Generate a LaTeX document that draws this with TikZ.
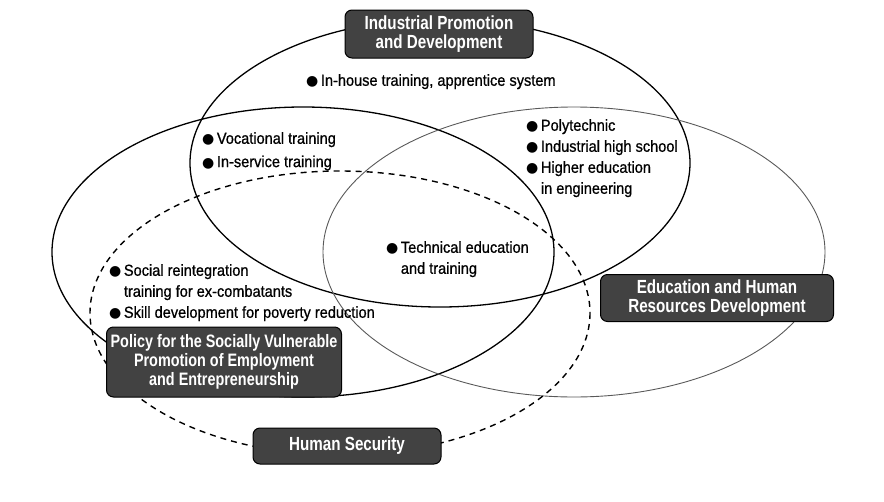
\documentclass[tikz,border=0pt]{standalone}
\usepackage{fontspec}
\setmainfont{Liberation Sans}[FakeStretch=0.91, FakeBold=0.8]
\newfontfamily\tagfont{Liberation Sans}[FakeStretch=0.8]
\newfontfamily\dotfont{DejaVu Sans}
\usetikzlibrary{positioning}
\newcommand{\blt}{{\dotfont\fontsize{14}{14}\selectfont ●}\hspace{2.5pt}}

\begin{document}
\begin{tikzpicture}[x=1pt, y=-1pt, node distance=9pt,
  ring/.style={line width=1.3pt},
  hsring/.style={line width=1.4pt, dash pattern=on 6pt off 5pt},
  tag/.style={draw=black, line width=1pt, fill=black!74, rounded corners=7pt, text=white,
    font=\tagfont\bfseries\fontsize{19}{19}\selectfont, align=center, inner sep=3pt},
  item/.style={font=\fontsize{16}{21}\selectfont, align=left, inner sep=0pt, anchor=north west}]
  \useasboundingbox (0,0) rectangle (884,501);

  \draw[ring] (440,163) ellipse (250 and 144);
  \draw[ring] (303,252) ellipse (251 and 145);
  \draw[line width=0.9pt, black!65] (574,252) ellipse (251 and 145);
  \draw[hsring] (340,313) ellipse (250 and 142);

  \node[tag, minimum width=188pt, minimum height=48pt] (ipd) at (439,34) {Industrial Promotion\\and Development};
  \node[tag, minimum width=233pt, minimum height=47pt] (ehr) at (717,298) {Education and Human\\Resources Development};
  \node[tag, minimum width=235pt, minimum height=70pt, font=\tagfont\bfseries\fontsize{18}{19}\selectfont] (psv) at (224,362) {Policy for the Socially Vulnerable\\Promotion of Employment\\and Entrepreneurship};
  \node[tag, minimum width=188pt, minimum height=36pt] (hsec) at (347,446) {Human Security};

  \node[item] (inhouse) at (306,74) {\blt In-house training, apprentice system};
  \node[item] (voc) at (202,132) {\blt Vocational training};
  \node[item, below=8pt of voc.south west, anchor=north west] (inserv) {\blt In-service training};
  \node[item] (poly) at (526,119) {\blt Polytechnic\\\blt Industrial high school\\\blt Higher education\\\phantom{\blt}in engineering};
  \node[item] (tech) at (386,241) {\blt Technical education\\\phantom{\blt}and training};
  \node[item] (social) at (109,264) {\blt Social reintegration\\\phantom{\blt}training for ex-combatants\\\blt Skill development for poverty reduction};
\end{tikzpicture}
\end{document}
